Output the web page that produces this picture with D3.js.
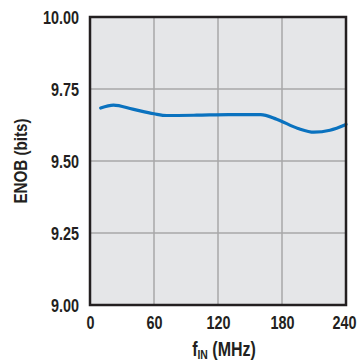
<!DOCTYPE html>
<html>
<head>
<meta charset="utf-8">
<script src="https://cdn.jsdelivr.net/npm/d3@7"></script>
<style>
  body { margin: 0; background: #fff; }
  text { font-family: "Liberation Sans", Arial, sans-serif; font-weight: bold; fill: #231f20; }
</style>
</head>
<body>
<svg id="chart" width="357" height="362"></svg>
<script>
// ENOB vs input frequency
var freq = [10, 22, 40, 60, 72, 100, 130, 160, 175, 195, 210, 225, 240];
var enob = [9.684, 9.694, 9.68, 9.664, 9.658, 9.659, 9.661, 9.661, 9.645, 9.613, 9.6, 9.607, 9.627];
var xTicks = [0, 60, 120, 180, 240];
var yTicks = [9.00, 9.25, 9.50, 9.75, 10.00];

var svg = d3.select("#chart");
var squeeze = 0.8; // fake a condensed face

var margin = {top: 17, right: 11, bottom: 57, left: 90},
    width = 357 - margin.left - margin.right,
    height = 362 - margin.top - margin.bottom;

var x = d3.scaleLinear().domain([0, 240]).range([0, width]);
var y = d3.scaleLinear().domain([9, 10]).range([height, 0]);

var g = svg.append("g")
    .attr("transform", "translate(" + margin.left + "," + margin.top + ")");

// plot background
g.append("rect")
    .attr("width", width)
    .attr("height", height)
    .attr("fill", "#e5e6e8");

// grid
g.selectAll(".vgrid")
    .data(xTicks.slice(1, -1))
    .enter().append("line")
    .attr("x1", d => x(d)).attr("x2", d => x(d))
    .attr("y1", 0).attr("y2", height)
    .attr("stroke", "#a7a7a9").attr("stroke-width", 1.5);

g.selectAll(".hgrid")
    .data(yTicks.slice(1, -1))
    .enter().append("line")
    .attr("y1", d => y(d)).attr("y2", d => y(d))
    .attr("x1", 0).attr("x2", width)
    .attr("stroke", "#a7a7a9").attr("stroke-width", 1.5);

// the curve
var line = d3.line()
    .x((d, i) => x(freq[i]))
    .y(d => y(d))
    .curve(d3.curveMonotoneX);

g.append("path")
    .datum(enob)
    .attr("d", line)
    .attr("fill", "none")
    .attr("stroke", "#0a72bf")
    .attr("stroke-width", 3.2)
    .attr("stroke-linecap", "round");

// frame
g.append("rect")
    .attr("width", width)
    .attr("height", height)
    .attr("fill", "none")
    .attr("stroke", "#231f20")
    .attr("stroke-width", 2.5);

// axes (labels only)
var xAxis = d3.axisBottom(x).tickValues(xTicks).tickSize(0).tickPadding(11).tickFormat(d3.format("d"));
var yAxis = d3.axisLeft(y).tickValues(yTicks).tickSize(0).tickPadding(11).tickFormat(d3.format(".2f"));

var gx = g.append("g").attr("transform", "translate(0," + height + ")").call(xAxis);
var gy = g.append("g").call(yAxis);
[gx, gy].forEach(function(a) {
    a.select(".domain").remove();
    a.selectAll("text")
        .attr("font-family", null)
        .attr("font-size", 18)
        .attr("fill", "#231f20")
        .attr("x", function() { return +d3.select(this).attr("x") / squeeze; })
        .attr("transform", "scale(" + squeeze + ",1)");
});
gy.selectAll("text").attr("dy", "0.36em");
// last x label hugs the edge like the original
gx.selectAll("text").filter(d => d === 240).attr("x", -2 / squeeze);

// titles
svg.append("text")
    .attr("transform", "translate(27," + (margin.top + height / 2) + ") rotate(-90) scale(" + squeeze + ",1)")
    .attr("text-anchor", "middle")
    .attr("font-size", 19)
    .text("ENOB (bits)");

var xt = svg.append("text")
    .attr("transform", "translate(224,356) scale(" + squeeze + ",1)")
    .attr("text-anchor", "middle")
    .attr("font-size", 20);
xt.append("tspan").text("f");
xt.append("tspan").attr("font-size", 13).attr("dy", 3).text("IN");
xt.append("tspan").attr("dy", -3).text(" (MHz)");
</script>
</body>
</html>
